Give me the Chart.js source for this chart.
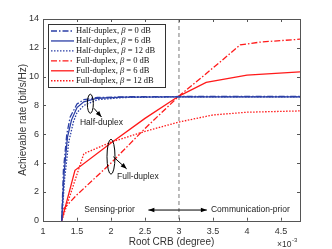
<!DOCTYPE html>
<html><head><meta charset="utf-8">
<script src="https://cdn.jsdelivr.net/npm/chart.js@4.4.1/dist/chart.umd.min.js"></script>
<style>html,body{margin:0;padding:0;background:#fff}#c{display:block}</style>
</head><body>
<div style="width:332px;height:249px"><canvas id="c" width="332" height="249"></canvas></div>
<script>
// ---- data ----
const xTicks = [1, 1.5, 2, 2.5, 3, 3.5, 4, 4.5];
const yTicks = [0, 2, 4, 6, 8, 10, 12, 14];
const seriesNames = ['Half-duplex, \u03B2 = 0 dB','Half-duplex, \u03B2 = 6 dB','Half-duplex, \u03B2 = 12 dB',
                     'Full-duplex, \u03B2 = 0 dB','Full-duplex, \u03B2 = 6 dB','Full-duplex, \u03B2 = 12 dB'];
const hd0x = [1.275, 1.3, 1.35, 1.4, 1.5, 1.6, 1.8, 2.2, 3, 4.78];
const hd0y = [0, 3.5, 6.0, 7.2, 8.1, 8.4, 8.55, 8.6, 8.62, 8.62];
const hd6x = [1.275, 1.31, 1.36, 1.42, 1.5, 1.6, 1.8, 2.2, 3, 4.78];
const hd6y = [0, 3.3, 5.8, 7.0, 7.85, 8.25, 8.5, 8.58, 8.6, 8.6];
const hd12x = [1.275, 1.32, 1.38, 1.45, 1.5, 1.6, 1.8, 2.2, 3, 4.78];
const hd12y = [0, 3.0, 5.5, 6.9, 7.5, 8.0, 8.4, 8.55, 8.6, 8.6];
const fd0x = [1.275, 1.3, 1.5, 2, 2.5, 3, 3.5, 3.9, 4.2, 4.5, 4.78];
const fd0y = [0, 0.8, 1.8, 4.0, 6.4, 8.65, 10.6, 12.2, 12.4, 12.5, 12.6];
const fd6x = [1.275, 1.47, 2, 2.5, 3, 3.4, 4, 4.78];
const fd6y = [0, 3.5, 5.4, 7.1, 8.65, 9.6, 10.1, 10.33];
const fd12x = [1.275, 1.6, 2, 2.5, 3, 3.5, 4, 4.78];
const fd12y = [0, 4.65, 5.45, 6.2, 6.85, 7.34, 7.53, 7.62];

const BLUE = '#2b3fa6', RED = '#ff1a1a';
const DASHDOT = [6, 2, 1.5, 2], DOT = [1.5, 1.5];
function pts(xs, ys) { return xs.map((x, i) => ({x: x, y: ys[i]})); }
function ds(i, xs, ys, color, dash) {
  return {label: seriesNames[i], data: pts(xs, ys), borderColor: color, backgroundColor: color,
    borderDash: dash, borderWidth: 1.3, showLine: true, pointRadius: 0, tension: 0, fill: false};
}

const overlay = {
  id: 'overlay',
  beforeDatasetsDraw(chart) {
    const {ctx, chartArea: a, scales: {x, y}} = chart;
    ctx.save();
    ctx.strokeStyle = '#555'; ctx.lineWidth = 0.8; ctx.setLineDash([4, 3]);
    const px = x.getPixelForValue(3);
    ctx.beginPath(); ctx.moveTo(px, a.top); ctx.lineTo(px, a.bottom); ctx.stroke();
    ctx.restore();
  },
  afterDatasetsDraw(chart) {
    const {ctx, chartArea: a, scales: {x, y}} = chart;
    ctx.save();
    // box
    ctx.strokeStyle = '#555'; ctx.lineWidth = 1;
    ctx.strokeRect(Math.round(a.left) + 0.5, Math.round(a.top) + 0.5, Math.round(a.right - a.left), Math.round(a.bottom - a.top));
    // inner ticks
    ctx.beginPath();
    xTicks.forEach(v => { const p = Math.round(x.getPixelForValue(v)) + 0.5;
      ctx.moveTo(p, a.bottom); ctx.lineTo(p, a.bottom - 3); ctx.moveTo(p, a.top); ctx.lineTo(p, a.top + 3); });
    yTicks.forEach(v => { const p = Math.round(y.getPixelForValue(v)) + 0.5;
      ctx.moveTo(a.left, p); ctx.lineTo(a.left + 3, p); ctx.moveTo(a.right, p); ctx.lineTo(a.right - 3, p); });
    ctx.stroke();

    // annotations
    const X = v => x.getPixelForValue(v), Y = v => y.getPixelForValue(v);
    ctx.strokeStyle = '#000'; ctx.fillStyle = '#000'; ctx.lineWidth = 1;
    function ellipse(cx, cy, rx, ry) { ctx.beginPath(); ctx.ellipse(X(cx), Y(cy), rx, ry, 0, 0, 2 * Math.PI); ctx.stroke(); }
    function arrow(x1, y1, x2, y2) {
      const ax = X(x1), ay = Y(y1), bx = X(x2), by = Y(y2);
      ctx.beginPath(); ctx.moveTo(ax, ay); ctx.lineTo(bx, by); ctx.stroke();
      const ang = Math.atan2(by - ay, bx - ax), L = 6, W = 2.3;
      ctx.beginPath(); ctx.moveTo(bx, by);
      ctx.lineTo(bx - L * Math.cos(ang) + W * Math.sin(ang), by - L * Math.sin(ang) - W * Math.cos(ang));
      ctx.lineTo(bx - L * Math.cos(ang) - W * Math.sin(ang), by - L * Math.sin(ang) + W * Math.cos(ang));
      ctx.closePath(); ctx.fill();
    }
    ellipse(1.696, 8.12, 3, 9.5);
    arrow(1.75, 7.8, 1.86, 7.2);
    ellipse(2.0, 4.44, 4, 17.5);
    arrow(2.034, 4.44, 2.23, 3.6);
    arrow(3, 0.74, 2.55, 0.74);
    arrow(3, 0.74, 3.41, 0.74);
    ctx.font = '8.5px "Liberation Sans", Arial, sans-serif';
    ctx.fillStyle = '#222'; ctx.textBaseline = 'middle'; ctx.textAlign = 'left';
    ctx.fillText('Half-duplex', X(1.544), Y(6.78));
    ctx.fillText('Full-duplex', X(2.09), Y(3.03));
    ctx.fillText('Sensing-prior', X(1.607), Y(0.79));
    ctx.fillText('Communication-prior', X(3.47), Y(0.79));

    // legend
    const lx = 48.5, ly = 24.5, lw = 117, lh = 63;
    ctx.fillStyle = '#fff'; ctx.fillRect(lx, ly, lw, lh);
    ctx.strokeStyle = '#333'; ctx.lineWidth = 1; ctx.setLineDash([]);
    ctx.strokeRect(lx, ly, lw, lh);
    chart.data.datasets.forEach((d, i) => {
      const yy = 31 + i * 9.95;
      ctx.strokeStyle = d.borderColor; ctx.lineWidth = 1.3; ctx.setLineDash(d.borderDash);
      ctx.beginPath(); ctx.moveTo(51, yy); ctx.lineTo(74, yy); ctx.stroke();
      ctx.setLineDash([]);
      ctx.fillStyle = '#111'; ctx.textAlign = 'left'; ctx.textBaseline = 'middle';
      const parts = d.label.split('\u03B2');
      ctx.font = '8.5px "Liberation Serif", "Times New Roman", serif';
      let tx = 76;
      ctx.fillText(parts[0], tx, yy); tx += ctx.measureText(parts[0]).width;
      ctx.font = 'italic 8.5px "Liberation Serif", "Times New Roman", serif';
      ctx.fillText('\u03B2', tx, yy); tx += ctx.measureText('\u03B2').width;
      ctx.font = '8.5px "Liberation Serif", "Times New Roman", serif';
      ctx.fillText(parts[1], tx, yy);
    });

    // x10^-3
    ctx.fillStyle = '#333'; ctx.textBaseline = 'alphabetic';
    ctx.font = '8.5px "Liberation Sans", Arial, sans-serif';
    ctx.fillText('\u00D710', 277, 247);
    const w = ctx.measureText('\u00D710').width;
    ctx.font = '6px "Liberation Sans", Arial, sans-serif';
    ctx.fillText('-3', 277 + w + 0.5, 242);
    ctx.restore();
  }
};

new Chart(document.getElementById('c'), {
  type: 'scatter',
  data: {datasets: [
    ds(0, hd0x, hd0y, BLUE, DASHDOT), ds(1, hd6x, hd6y, BLUE, []), ds(2, hd12x, hd12y, BLUE, DOT),
    ds(3, fd0x, fd0y, RED, DASHDOT), ds(4, fd6x, fd6y, RED, []), ds(5, fd12x, fd12y, RED, DOT)
  ]},
  options: {
    responsive: false, animation: false, devicePixelRatio: 1,
    layout: {padding: {top: 19, right: 32, left: 0, bottom: 0}},
    plugins: {legend: {display: false}, tooltip: {enabled: false}},
    scales: {
      x: {type: 'linear', min: 1, max: 4.78,
        afterBuildTicks: s => { s.ticks = xTicks.map(v => ({value: v})); },
        afterFit: s => { s.height = 28.3; },
        grid: {display: false, drawTicks: false}, border: {display: false},
        ticks: {padding: 5, color: '#333', font: {family: '"Liberation Sans", Arial, sans-serif', size: 9}, maxRotation: 0, autoSkip: false,
          callback: v => String(v)},
        title: {display: true, text: 'Root CRB (degree)', color: '#333', padding: {top: 0, bottom: 1},
          font: {family: '"Liberation Sans", Arial, sans-serif', size: 10}}
      },
      y: {type: 'linear', min: 0, max: 14,
        afterBuildTicks: s => { s.ticks = yTicks.map(v => ({value: v})); },
        afterFit: s => { s.width = 43; },
        grid: {display: false, drawTicks: false}, border: {display: false},
        ticks: {padding: 4, color: '#333', font: {family: '"Liberation Sans", Arial, sans-serif', size: 9}, autoSkip: false,
          callback: v => String(v)},
        title: {display: true, text: 'Achievable rate (bit/s/Hz)', color: '#333', padding: {top: 17, bottom: 0},
          font: {family: '"Liberation Sans", Arial, sans-serif', size: 10}}
      }
    }
  },
  plugins: [overlay]
});
</script>
</body></html>
